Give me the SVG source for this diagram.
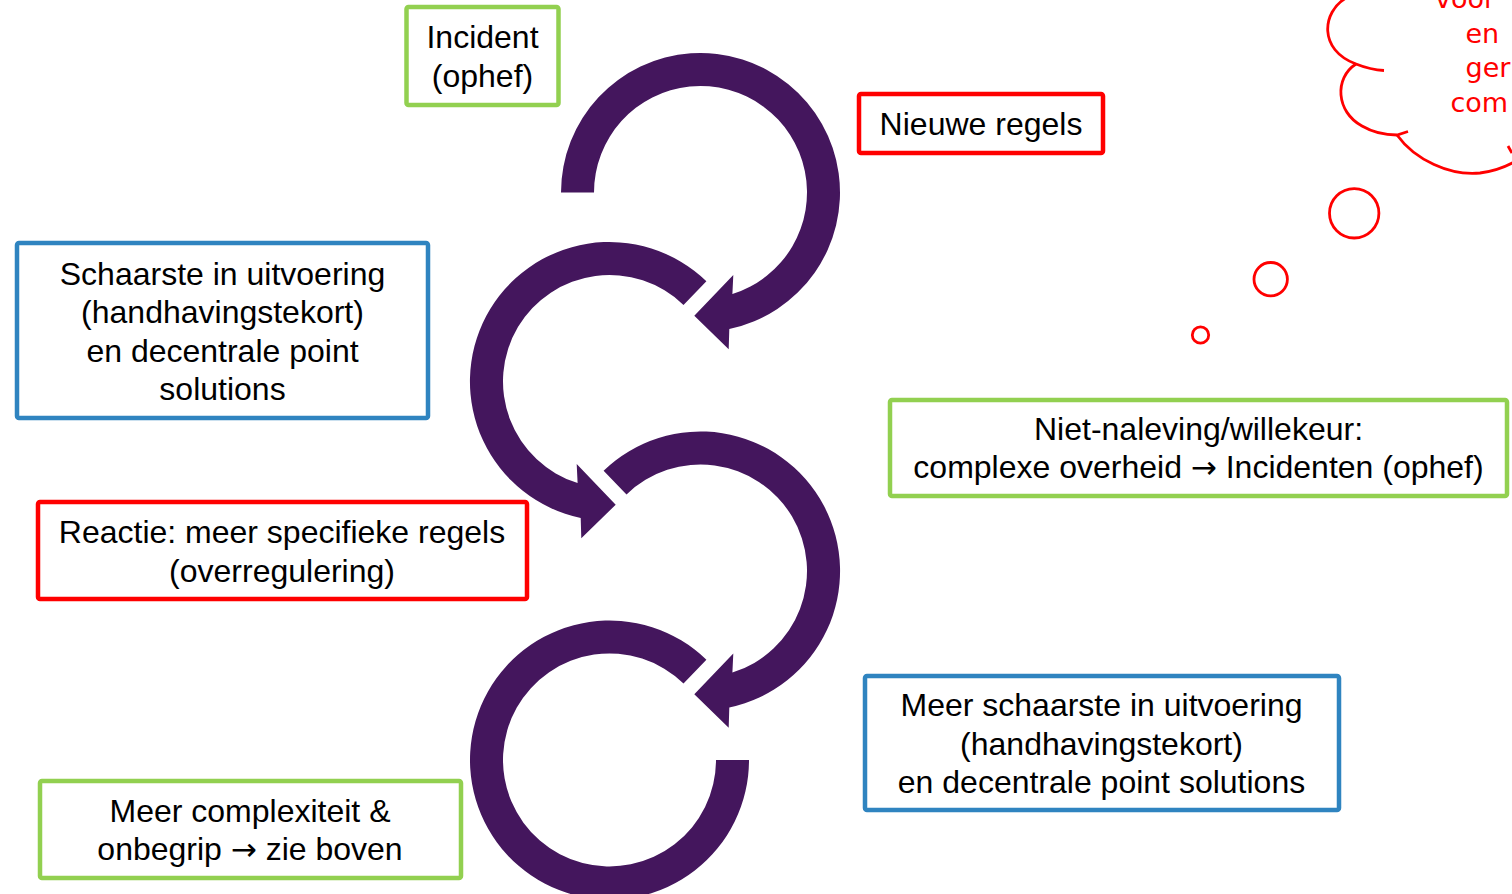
<svg xmlns="http://www.w3.org/2000/svg" width="1512" height="894" viewBox="0 0 1512 894">
<style>
.box{fill:#ffffff;stroke-width:4.5}
.g{stroke:#92D050}
.r{stroke:#FF0000}
.b{stroke:#2F84C0}
.t{font-family:"Liberation Sans",Arial,sans-serif;font-size:32px;fill:#000000;text-anchor:middle}
.ar{font-family:"DejaVu Sans",sans-serif;font-size:31px}
.arc{fill:#44165D}
.cl{fill:none;stroke:#FF0000;stroke-width:2.8}
.ct{font-family:"DejaVu Sans",Verdana,sans-serif;font-size:27px;fill:#FF0000}
</style>
<rect width="1512" height="894" fill="#ffffff"/>
<g id="connectors">
<path class="arc" d="M 561 192.5 A 139.5 139.5 0 1 1 729.3 329 L 728.7 349.3 L 694.3 315.7 L 733.3 275 L 732.4 294.1 A 106.5 106.5 0 1 0 594 192.5 Z"/>
<path class="arc" d="M 706.4 281.2 A 139.5 139.5 0 1 0 580.7 518 L 581.3 538.3 L 615.7 504.7 L 576.7 464 L 577.6 483.1 A 106.5 106.5 0 1 1 683.5 304.9 Z"/>
<path class="arc" d="M 603.6 470.7 A 139.5 139.5 0 1 1 729.3 707.5 L 728.7 727.8 L 694.3 694.2 L 733.3 653.5 L 732.4 672.6 A 106.5 106.5 0 1 0 626.5 494.4 Z"/>
<path class="arc" d="M 706.4 659.7 A 139.5 139.5 0 1 0 749 760 L 716 760 A 106.5 106.5 0 1 1 683.5 683.4 Z"/>
</g>
<g id="node-incident">
<rect class="box g" x="406.5" y="7" width="152" height="98" rx="2"/>
<text class="t" x="482.5" y="48">Incident</text>
<text class="t" x="482.5" y="87">(ophef)</text>
</g>
<g id="node-nieuwe-regels">
<rect class="box r" x="859" y="94" width="244" height="59" rx="2"/>
<text class="t" x="981" y="135">Nieuwe regels</text>
</g>
<g id="node-schaarste">
<rect class="box b" x="17" y="243" width="411" height="175" rx="2"/>
<text class="t" x="222.5" y="284.5">Schaarste in uitvoering</text>
<text class="t" x="222.5" y="323">(handhavingstekort)</text>
<text class="t" x="222.5" y="361.5">en decentrale point</text>
<text class="t" x="222.5" y="400">solutions</text>
</g>
<g id="node-reactie">
<rect class="box r" x="38" y="502" width="489" height="97" rx="2"/>
<text class="t" x="282" y="543">Reactie: meer specifieke regels</text>
<text class="t" x="282" y="582">(overregulering)</text>
</g>
<g id="node-complexiteit">
<rect class="box g" x="40" y="781" width="421" height="97" rx="2"/>
<text class="t" x="250" y="822">Meer complexiteit &amp;</text>
<text class="t" x="250" y="860">onbegrip <tspan class="ar">→</tspan> zie boven</text>
</g>
<g id="node-niet-naleving">
<rect class="box g" x="890" y="400" width="617" height="96" rx="2"/>
<text class="t" x="1198.5" y="440">Niet-naleving/willekeur:</text>
<text class="t" x="1198.5" y="478">complexe overheid <tspan class="ar">→</tspan> Incidenten (ophef)</text>
</g>
<g id="node-meer-schaarste">
<rect class="box b" x="865" y="676" width="474" height="134" rx="2"/>
<text class="t" x="1101.5" y="716">Meer schaarste in uitvoering</text>
<text class="t" x="1101.5" y="754.5">(handhavingstekort)</text>
<text class="t" x="1101.5" y="793">en decentrale point solutions</text>
</g>
<g id="node-thought-cloud">
<path class="cl" d="M 1346 -2 C 1322 12, 1318 50, 1356 64 C 1366 68, 1374 70, 1384 70.5"/>
<path class="cl" d="M 1356 64 C 1334 78, 1336 112, 1362 126 C 1374 133, 1386 135, 1397 135 L 1408 131.5"/>
<path class="cl" d="M 1397 135 C 1415 160, 1450 176, 1480 173 C 1495 171, 1505 167, 1514 162"/>
<path class="cl" d="M 1508 146 L 1512 153"/>
<text class="ct" x="1435" y="7.5">voor</text>
<text class="ct" x="1465.5" y="42.5">en</text>
<text class="ct" x="1465.5" y="77">ger</text>
<text class="ct" x="1450.5" y="111.5">com</text>
<circle class="cl" cx="1354.2" cy="213.3" r="24.7"/>
<circle class="cl" cx="1270.7" cy="279.2" r="16.7"/>
<circle class="cl" cx="1200.5" cy="335" r="8.2"/>
</g>
</svg>
